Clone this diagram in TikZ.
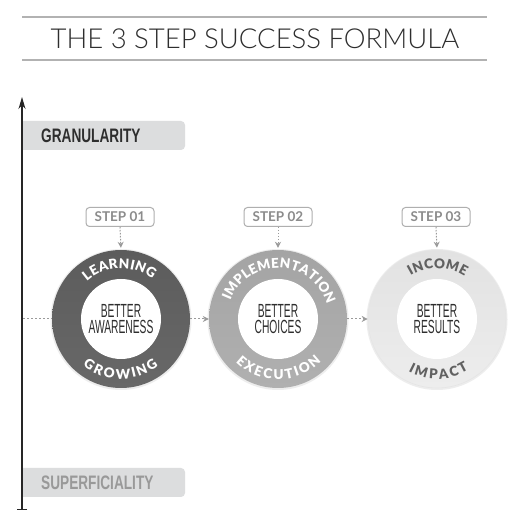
\documentclass[tikz,border=0pt]{standalone}
\usepackage{fontspec}
\usetikzlibrary{arrows.meta}
\setmainfont{Lato}
\newfontfamily\latof{Lato}
\IfFontExistsTF{Lato Light}{\newfontfamily\latolight{Lato Light}}{\newfontfamily\latolight{Lato}}
\IfFontExistsTF{Lato Black}{\newfontfamily\latoblack{Lato Black}}{\newfontfamily\latoblack[UprightFont=*,BoldFont=*]{Lato Bold}}
\newfontfamily\condA[FakeStretch=0.54]{Liberation Sans}
\newfontfamily\condB[FakeStretch=0.70]{Liberation Sans}
\newcommand\ringfontsel{\latoblack\fontsize{13.5}{13.5}\selectfont}
\definecolor{ringA}{HTML}{5C5C5C}
\definecolor{ringAb}{HTML}{686868}
\definecolor{ringB}{HTML}{A4A4A4}
\definecolor{ringBb}{HTML}{B0B0B0}
\definecolor{ringC}{HTML}{E2E2E2}
\definecolor{ringCb}{HTML}{EDEDED}
\definecolor{boxgray}{HTML}{DCDDDE}
\definecolor{rulegray}{HTML}{B2B2B2}
\definecolor{stepgray}{HTML}{8C8C8C}
\definecolor{textdark}{HTML}{2E2E2E}
\definecolor{textlight}{HTML}{999999}
\definecolor{conngray}{HTML}{9A9A9A}
\tikzset{
  rule/.style={rulegray, line width=2.2pt},
  axisline/.style={line width=1.3pt, color=black!85, {Bar[width=10pt]}-{Stealth[length=12pt,width=7pt]}},
  labeltext/.style={anchor=west, inner sep=0pt, font=\condB\bfseries\fontsize{19.5}{19.5}\selectfont},
  stepbox/.style={draw=stepgray!70, rounded corners=3.5pt, line width=1pt, minimum width=68pt, minimum height=19pt, inner sep=0pt, text=stepgray, font=\latof\bfseries\fontsize{13.5}{13.5}\selectfont},
  ringnode/.style={circle, inner sep=0pt, minimum size=138pt},
  innernode/.style={circle, fill=white, inner sep=0pt, minimum size=80pt, align=center, text=textdark, font=\condA\fontsize{19}{16}\selectfont},
  ringtxt/.style={inner sep=0pt, anchor=base, font=\ringfontsel},
  conn/.style={conngray, line width=1pt, dash pattern=on 2pt off 2pt},
  connarrow/.style={conn, -{Stealth[length=6pt,width=6pt]}},
  stepconn/.style={conngray, line width=1pt, dash pattern=on 1.5pt off 1.5pt, -{Stealth[length=6pt,width=6pt]}, shorten >=2pt},
  shadowc/.style={circle, fill=black!7, inner sep=0pt, minimum size=141pt}
}
\newcommand\measureletters[1]{%
  \foreach \l in {#1}{%
    \setbox0=\hbox{\ringfontsel\l}%
    \expandafter\xdef\csname rw@\l\endcsname{\the\wd0}}}
% #1 node, #2 baseline radius, #3 spacing radius, #4 mid angle, #5 dir (1 top, -1 bottom), #6 extra spacing, #7 options, #8 letters
\newcommand\arcletters[8]{%
  \xdef\arcTot{0}%
  \foreach \l in {#8}{%
    \pgfmathsetmacro\arcTmp{\arcTot+\csname rw@\l\endcsname+#6}%
    \xdef\arcTot{\arcTmp}}%
  \pgfmathsetmacro\arcTmp{-(\arcTot-#6)/2}\xdef\arcPos{\arcTmp}%
  \foreach \l in {#8}{%
    \pgfmathsetmacro\arcC{\arcPos+\csname rw@\l\endcsname/2}%
    \pgfmathsetmacro\arcA{#4-#5*\arcC/#3*57.29578}%
    \pgfmathsetmacro\arcR{\arcA-#5*90}%
    \node[ringtxt,#7,rotate=\arcR] at ([shift={(\arcA:#2)}]#1) {\l};
    \pgfmathsetmacro\arcTmp{\arcPos+\csname rw@\l\endcsname+#6}%
    \xdef\arcPos{\arcTmp}}%
}
\begin{document}
\measureletters{A,C,E,G,I,L,M,N,O,P,R,T,U,W,X}%
\begin{tikzpicture}[x=1pt,y=1pt]
\useasboundingbox (0,0) rectangle (518,518);
\fill[white] (0,0) rectangle (518,518);
% title
\coordinate (tl1) at (22,501); \coordinate (tr1) at (487,501);
\coordinate (tl2) at (22,458); \coordinate (tr2) at (487,458);
\draw[rule] (tl1) -- (tr1);
\draw[rule] (tl2) -- (tr2);
\node[inner sep=0pt, text=textdark, font=\latolight\fontsize{27.5}{27.5}\selectfont] (title) at (255,479) {THE 3 STEP SUCCESS FORMULA};
% label boxes
\begin{scope}
\clip (22,0) rectangle (518,518);
\fill[boxgray, rounded corners=4pt] (12,368) rectangle (185,397);
\fill[boxgray, rounded corners=4pt] (12,21) rectangle (185,50);
\end{scope}
\node[labeltext, text=textdark] (gran) at (41,382.5) {GRANULARITY};
\node[labeltext, text=textlight] (superf) at (41,35.5) {SUPERFICIALITY};
% axis
\coordinate (axbot) at (22,8);
\coordinate (axtop) at (22,421);
\draw[axisline] (axbot) -- (axtop);
% circles
\node[shadowc] at (121,198.5) {};
\node[shadowc] at (278,198.5) {};
\node[shadowc] at (437,198.5) {};
\node[ringnode, top color=ringA, bottom color=ringAb] (c1) at (121,199) {};
\node[ringnode, top color=ringB, bottom color=ringBb] (c2) at (278,199) {};
\node[ringnode, top color=ringC, bottom color=ringCb, draw=black!10, line width=0.6pt] (c3) at (437,199) {};
\node[innernode] (c1i) at (c1) {BETTER\\AWARENESS};
\node[innernode] (c2i) at (c2) {BETTER\\CHOICES};
\node[innernode] (c3i) at (c3) {BETTER\\RESULTS};
% ring texts
\arcletters{c1}{50.5}{55}{92}{1}{1.2}{text=white}{L,E,A,R,N,I,N,G}
\arcletters{c1}{60}{55}{269.5}{-1}{1.2}{text=white}{G,R,O,W,I,N,G}
\arcletters{c2}{51}{55}{88}{1}{1.0}{text=white}{I,M,P,L,E,M,E,N,T,A,T,I,O,N}
\arcletters{c2}{60.5}{55}{270.7}{-1}{1.2}{text=white}{E,X,E,C,U,T,I,O,N}
\arcletters{c3}{50.5}{55}{89.3}{1}{1.2}{text=black!62}{I,N,C,O,M,E}
\arcletters{c3}{60}{55}{271.8}{-1}{1.2}{text=black!62}{I,M,P,A,C,T}
% step boxes
\node[stepbox] (s1) at (120,301) {STEP 01};
\node[stepbox] (s2) at (278,301) {STEP 02};
\node[stepbox] (s3) at (436,301) {STEP 03};
\draw[stepconn] (s1.south) -- (c1.north);
\draw[stepconn] (s2.south) -- (c2.north);
\draw[stepconn] (s3.south) -- (c3.north);
% horizontal flow
\coordinate (axmid) at (23,199);
\draw[conn] (axmid) -- (c1.west);
\draw[connarrow] (c1.east) -- (c2.west);
\draw[connarrow] (c2.east) -- (c3.west);
\end{tikzpicture}
\end{document}
